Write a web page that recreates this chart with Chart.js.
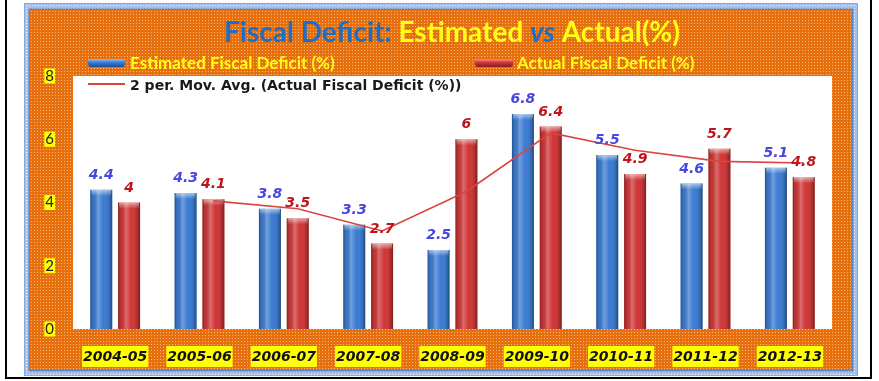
<!DOCTYPE html>
<html>
<head>
<meta charset="utf-8">
<title>Fiscal Deficit: Estimated vs Actual(%)</title>
<script src="https://cdn.jsdelivr.net/npm/chart.js@4.4.1/dist/chart.umd.min.js"></script>
<style>
  html, body { margin: 0; padding: 0; background: #fff; }
  body { width: 879px; height: 381px; position: relative; overflow: hidden; }
  #edge { position: absolute; left: 5px; top: 0; width: 863px; height: 377px; border: 2px solid #000; border-top: none; }
  #frame {
    position: absolute; left: 24px; top: 3px; width: 834px; height: 373px; box-sizing: border-box;
    border: 1px solid #86a8da; background-color: #a5c1e9;
    background-image: radial-gradient(circle, rgba(255,255,255,.85) 0.7px, transparent 1px);
    background-size: 3px 3px;
  }
  #fiscal { position: absolute; left: 30px; top: 10px; box-shadow: 0 0 0 1.5px #5d88c8; }
</style>
</head>
<body>
<div id="edge"></div>
<div id="frame"></div>
<canvas id="fiscal" width="822" height="360"></canvas>
<script>
var years = ['2004-05', '2005-06', '2006-07', '2007-08', '2008-09', '2009-10', '2010-11', '2011-12', '2012-13'];
var estimated = [4.4, 4.3, 3.8, 3.3, 2.5, 6.8, 5.5, 4.6, 5.1];
var actual = [4, 4.1, 3.5, 2.7, 6, 6.4, 4.9, 5.7, 4.8];
// two period moving average of the actual figures
var movAvg = [null, 4.05, 3.8, 3.1, 4.35, 6.2, 5.65, 5.3, 5.25];
var yTicks = [0, 2, 4, 6, 8];

var BLUE = '#3a7bd2', RED = '#cf3535', YELLOW = '#ffff14';

function dotPattern(ctx, base, dot) {
    var c = document.createElement('canvas');
    c.width = 3; c.height = 3;
    var g = c.getContext('2d');
    g.fillStyle = base; g.fillRect(0, 0, 3, 3);
    g.fillStyle = dot; g.fillRect(1, 1, 1, 1);
    return ctx.createPattern(c, 'repeat');
}

// orange dotted fill with a white plot area
var backdrop = {
    id: 'backdrop',
    beforeDraw: function(chart) {
        var ctx = chart.ctx, a = chart.chartArea;
        ctx.save();
        ctx.fillStyle = dotPattern(ctx, '#e8700c', '#f6bb84');
        ctx.fillRect(0, 0, chart.width, chart.height);
        ctx.fillStyle = '#fff';
        ctx.fillRect(a.left, a.top, a.right - a.left, a.bottom - a.top);
        ctx.restore();
    }
};

var titleParts = [
    ['Fiscal Deficit: ', '#1f6ec6', 'bold'],
    ['Estimated ', YELLOW, 'bold'],
    ['vs', '#1f6ec6', 'italic bold'],
    [' Actual(%)', YELLOW, 'bold']
];

var titleText = {
    id: 'titleText',
    afterDraw: function(chart) {
        var ctx = chart.ctx;
        ctx.save();
        ctx.textBaseline = 'middle';
        var total = 0;
        titleParts.forEach(function(p) {
            ctx.font = p[2] + ' 28px Lato';
            total += ctx.measureText(p[0]).width;
        });
        var x = 422 - total / 2;
        titleParts.forEach(function(p) {
            ctx.font = p[2] + ' 28px Lato';
            ctx.fillStyle = p[1];
            ctx.fillText(p[0], x, 23);
            x += ctx.measureText(p[0]).width;
        });
        ctx.restore();
    }
};

function barSwatch(ctx, x, y, w, h, light, mid, dark) {
    var g = ctx.createLinearGradient(0, y, 0, y + h);
    g.addColorStop(0, light);
    g.addColorStop(0.45, mid);
    g.addColorStop(1, dark);
    ctx.fillStyle = g;
    ctx.beginPath();
    ctx.roundRect(x, y, w, h, 3);
    ctx.fill();
}

var legendBox = {
    id: 'legendBox',
    afterDraw: function(chart) {
        var ctx = chart.ctx, ds = chart.data.datasets;
        ctx.save();
        ctx.textBaseline = 'middle';
        barSwatch(ctx, 58, 49, 37, 8, '#8fbdf2', BLUE, '#1d4d8f');
        barSwatch(ctx, 445, 49, 38, 8, '#f09090', RED, '#8a1c1c');
        ctx.font = 'bold 17px Lato';
        ctx.fillStyle = YELLOW;
        ctx.fillText(ds[0].label, 100, 54);
        ctx.fillText(ds[1].label, 487, 54);

        ctx.strokeStyle = ds[2].borderColor;
        ctx.lineWidth = 2;
        ctx.beginPath();
        ctx.moveTo(58, 74); ctx.lineTo(95, 74);
        ctx.stroke();
        ctx.font = 'bold 14px "DejaVu Sans"';
        ctx.fillStyle = '#1a1a1a';
        ctx.fillText(ds[2].label, 100, 76);
        ctx.restore();
    }
};

// rounded-column look: side shading and a light cap on each bar
var barShade = {
    id: 'barShade',
    afterDatasetDraw: function(chart, args) {
        if (args.meta.type !== 'bar') return;
        var ctx = chart.ctx;
        ctx.save();
        args.meta.data.forEach(function(bar) {
            var l = bar.x - bar.width / 2, w = bar.width, t = bar.y, h = bar.base - bar.y;
            var g = ctx.createLinearGradient(l, 0, l + w, 0);
            g.addColorStop(0, 'rgba(0,0,0,0.35)');
            g.addColorStop(0.12, 'rgba(0,0,0,0.05)');
            g.addColorStop(0.35, 'rgba(255,255,255,0.28)');
            g.addColorStop(0.6, 'rgba(255,255,255,0)');
            g.addColorStop(0.88, 'rgba(0,0,0,0.15)');
            g.addColorStop(1, 'rgba(0,0,0,0.4)');
            ctx.fillStyle = g;
            ctx.fillRect(l, t, w, h);
            var c = ctx.createLinearGradient(0, t, 0, t + 6);
            c.addColorStop(0, 'rgba(255,255,255,0.55)');
            c.addColorStop(1, 'rgba(255,255,255,0)');
            ctx.fillStyle = c;
            ctx.fillRect(l + 1, t, w - 2, 6);
        });
        ctx.restore();
    }
};

// the moving average sits over the actual-deficit bars
var trendShift = {
    id: 'trendShift',
    beforeDatasetDraw: function(chart, args) {
        if (args.meta.type !== 'line') return;
        var red = chart.getDatasetMeta(1).data[0];
        var dx = red.x - chart.scales.x.getPixelForValue(0);
        chart.ctx.save();
        chart.ctx.translate(dx, 0);
    },
    afterDatasetDraw: function(chart, args) {
        if (args.meta.type === 'line') chart.ctx.restore();
    }
};

var valueLabels = {
    id: 'valueLabels',
    afterDatasetsDraw: function(chart) {
        var ctx = chart.ctx;
        ctx.save();
        ctx.font = 'italic bold 14px "DejaVu Sans"';
        ctx.textAlign = 'center';
        [0, 1].forEach(function(di) {
            var ds = chart.data.datasets[di];
            ctx.fillStyle = ds.valueColor;
            chart.getDatasetMeta(di).data.forEach(function(bar, i) {
                ctx.fillText(String(ds.data[i]), bar.x, bar.y - 11);
            });
        });
        ctx.restore();
    }
};

new Chart(document.getElementById('fiscal'), {
    type: 'bar',
    data: {
        labels: years,
        datasets: [{
            label: 'Estimated Fiscal Deficit (%)',
            data: estimated,
            backgroundColor: BLUE,
            valueColor: '#4646e0',
            categoryPercentage: 0.66,
            barPercentage: 0.79,
            order: 1
        }, {
            label: 'Actual Fiscal Deficit (%)',
            data: actual,
            backgroundColor: RED,
            valueColor: '#c0141c',
            categoryPercentage: 0.66,
            barPercentage: 0.79,
            order: 1
        }, {
            type: 'line',
            label: '2 per. Mov. Avg. (Actual Fiscal Deficit (%))',
            data: movAvg,
            borderColor: '#d9453f',
            borderWidth: 1.6,
            pointRadius: 0,
            tension: 0,
            order: 0
        }]
    },
    options: {
        responsive: false,
        animation: false,
        layout: { padding: { top: 66, right: 20, left: 0, bottom: 0 } },
        plugins: {
            legend: { display: false },
            tooltip: { enabled: false }
        },
        scales: {
            x: {
                grid: { display: false, drawTicks: false },
                border: { display: false },
                afterFit: function(s) { s.height = 41; },
                ticks: {
                    padding: 21,
                    color: '#111',
                    maxRotation: 0,
                    font: { family: 'DejaVu Sans', size: 14, style: 'italic', weight: 'bold', lineHeight: 1 },
                    showLabelBackdrop: true,
                    backdropColor: '#ffff00',
                    backdropPadding: { top: 4, bottom: 3, left: 1, right: 1 }
                }
            },
            y: {
                min: yTicks[0],
                max: yTicks[yTicks.length - 1],
                grid: { display: false, drawTicks: false },
                border: { display: false },
                afterFit: function(s) { s.width = 43; },
                ticks: {
                    stepSize: yTicks[1] - yTicks[0],
                    padding: 19,
                    color: '#222',
                    font: { family: 'Lato', size: 15, lineHeight: 1 },
                    showLabelBackdrop: true,
                    backdropColor: '#ffff00',
                    backdropPadding: { top: 0, bottom: 0, left: 1, right: 1 }
                }
            }
        }
    },
    plugins: [backdrop, barShade, trendShift, valueLabels, legendBox, titleText]
});
</script>
</body>
</html>
